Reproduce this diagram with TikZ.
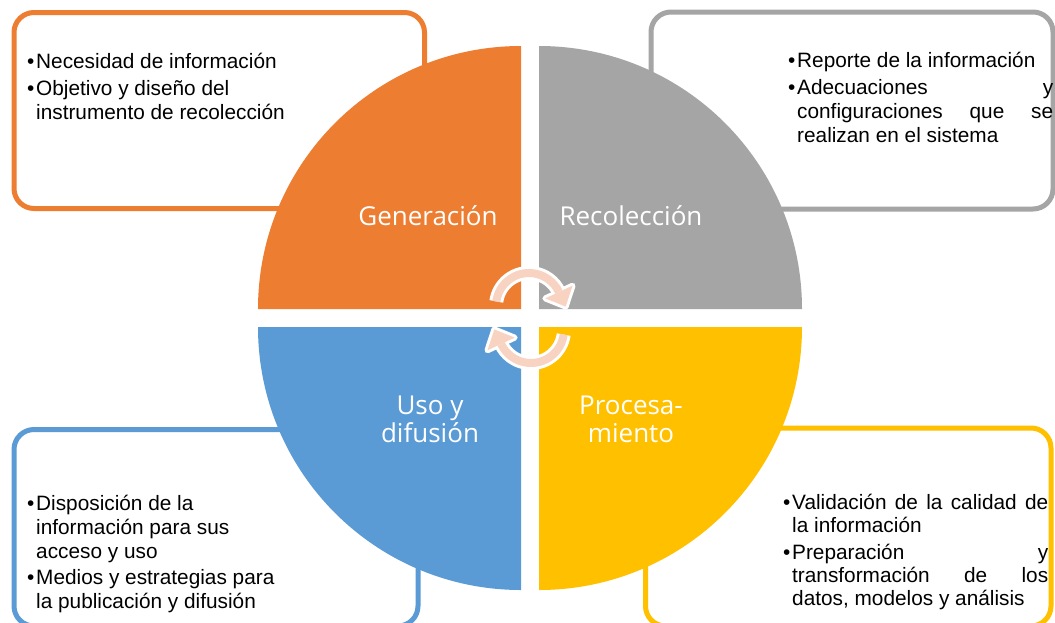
\documentclass[tikz,border=0pt]{standalone}
\usepackage{fontspec}
\setmainfont{Liberation Sans}
\newfontfamily\lblfont{Open Sans}
\usetikzlibrary{calc}
\definecolor{cOr}{HTML}{ED7D31}
\definecolor{cGr}{HTML}{A5A5A5}
\definecolor{cYe}{HTML}{FFC000}
\definecolor{cBl}{HTML}{5B9BD5}
\definecolor{cPe}{HTML}{F8D3C2}
\newcommand{\bitem}[1]{\par\hangindent=9pt\hangafter=1\noindent\makebox[9pt][l]{\textbullet}#1}
\tikzset{
  infobox/.style={line width=5pt, rounded corners=20pt, fill=white},
  quad/.style={draw=none},
  txt/.style={anchor=base west, inner sep=0pt, font=\fontsize{20.8}{24}\selectfont},
  lbl/.style={inner sep=0pt, text=white, align=center, font=\lblfont\fontsize{26}{28}\selectfont},
  bandw/.style={white, line width=14pt},
  bandp/.style={cPe, line width=8pt},
}
\begin{document}
\begin{tikzpicture}[x=1pt,y=1pt]
\useasboundingbox (0,0) rectangle (1055,-622);
\fill[white] (0,0) rectangle (1055,-622);
% boxes
\draw[infobox, draw=cOr] (14,-12.5) rectangle (424.5,-208.5);
\draw[infobox, draw=cGr] (651,-12) rectangle (1053,-209);
\draw[infobox, draw=cBl] (14,-429.5) rectangle (418,-626);
\draw[infobox, draw=cYe] (645.5,-428) rectangle (1051,-626);
% quadrants
\fill[cOr] (521,-309) -- (258,-309) arc[start angle=180,end angle=90,radius=263] -- cycle;
\fill[cGr] (539,-309) -- (539,-46) arc[start angle=90,end angle=0,radius=263] -- cycle;
\fill[cYe] (539,-327) -- (802,-327) arc[start angle=0,end angle=-90,radius=263] -- cycle;
\fill[cBl] (521,-327) -- (521,-590) arc[start angle=270,end angle=180,radius=263] -- cycle;
% labels
\node[lbl] (gen) at (428,-216) {Generación};
\node[lbl] (rec) at (631,-216) {Recolección};
\node[lbl] (uso) at (430,-419) {Uso y\\difusión};
\node[lbl] (pro) at (631,-419) {Procesa-\\miento};
% circular arrows
\begin{scope}[shift={(529,-306)}]
  \draw[bandw] (172:33) arc[start angle=172,end angle=25,radius=33];
  \draw[white, line width=6pt, line join=round, fill=white] (25:18) -- (25:48) -- ($(25:33)+(-65:16)$) -- cycle;
  \draw[bandp] (172:33) arc[start angle=172,end angle=25,radius=33];
  \fill[cPe] (25:18) -- (25:48) -- ($(25:33)+(-65:16)$) -- cycle;
\end{scope}
\begin{scope}[shift={(531,-330)}]
  \draw[bandw] (-8:33) arc[start angle=-8,end angle=-155,radius=33];
  \draw[white, line width=6pt, line join=round, fill=white] (205:18) -- (205:48) -- ($(205:33)+(115:16)$) -- cycle;
  \draw[bandp] (-8:33) arc[start angle=-8,end angle=-155,radius=33];
  \fill[cPe] (205:18) -- (205:48) -- ($(205:33)+(115:16)$) -- cycle;
\end{scope}
% texts
\node[txt] (tgen) at (27,-68) {\parbox[t]{380pt}{\parskip=3pt\raggedright\hyphenpenalty=10000
  \bitem{Necesidad de información}\bitem{Objetivo y diseño del\newline instrumento de recolección}}};
\node[txt] (trec) at (788,-67) {\parbox[t]{265pt}{\parskip=3pt\hyphenpenalty=10000\tolerance=10000\hbadness=10000
  \bitem{Reporte de la información}\bitem{Adecuaciones y\linebreak configuraciones que se\linebreak realizan en el sistema}}};
\node[txt] (tuso) at (27,-510) {\parbox[t]{380pt}{\parskip=2pt\raggedright\hyphenpenalty=10000
  \bitem{Disposición de la\newline información para sus\newline acceso y uso}\bitem{Medios y estrategias para\newline la publicación y difusión}}};
\node[txt] (tpro) at (783,-509) {\parbox[t]{265pt}{\fontsize{20.8}{23.3}\selectfont\parskip=3.5pt\hyphenpenalty=10000\tolerance=10000\hbadness=10000
  \bitem{Validación de la calidad de\linebreak la información}\bitem{Preparación y\linebreak transformación de los\linebreak datos, modelos y análisis}}};
\end{tikzpicture}
\end{document}
